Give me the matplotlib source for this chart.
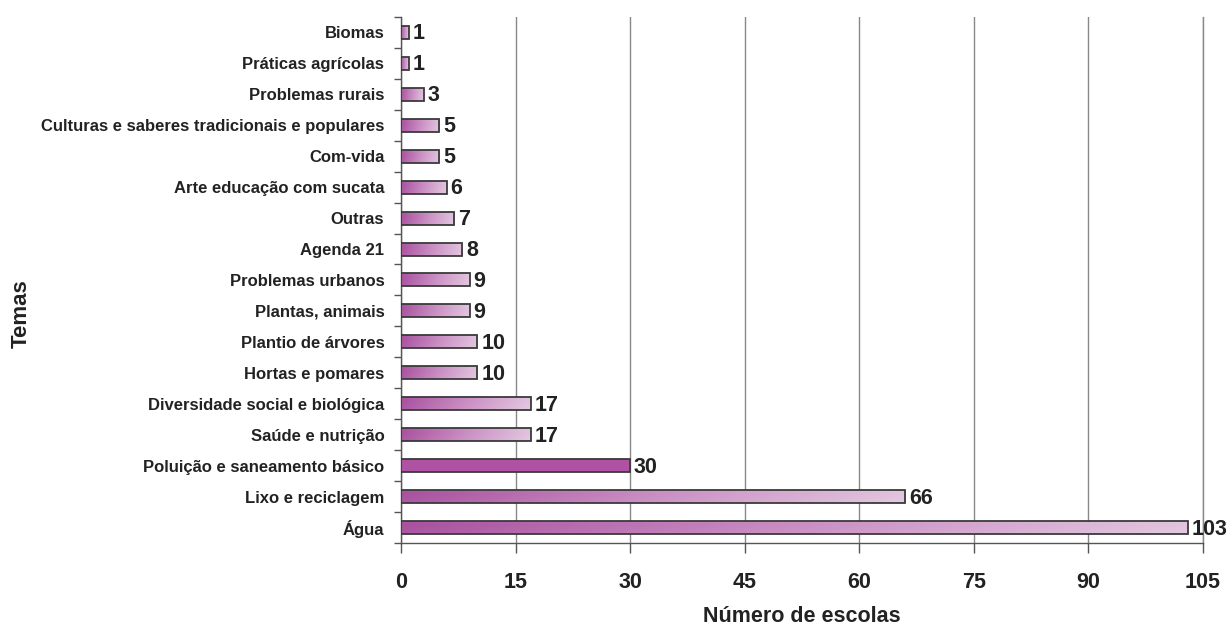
import numpy as np
import matplotlib
matplotlib.use("Agg")
import matplotlib.pyplot as plt
from matplotlib.colors import LinearSegmentedColormap
from matplotlib.ticker import FixedLocator, NullFormatter

plt.rcParams["font.family"] = ["Liberation Sans", "DejaVu Sans"]
plt.rcParams["font.weight"] = "bold"

temas = [
    "Água", "Lixo e reciclagem", "Poluição e saneamento básico",
    "Saúde e nutrição", "Diversidade social e biológica", "Hortas e pomares",
    "Plantio de árvores", "Plantas, animais", "Problemas urbanos", "Agenda 21",
    "Outras", "Arte educação com sucata", "Com-vida",
    "Culturas e saberes tradicionais e populares", "Problemas rurais",
    "Práticas agrícolas", "Biomas",
]
escolas = [103, 66, 30, 17, 17, 10, 10, 9, 9, 8, 7, 6, 5, 5, 3, 1, 1]
destaque = "Poluição e saneamento básico"
xticks = [0, 15, 30, 45, 60, 75, 90, 105]

fig = plt.figure(figsize=(12.29, 6.27), dpi=100)
ax = fig.add_axes([0.3263, 0.134, 0.6526, 0.839])

y = np.arange(len(temas))
h = 0.42
cmap = LinearSegmentedColormap.from_list("roxo", ["#a9519f", "#cc93c6", "#e6cfe3"])

# gradiente horizontal com leve sombreamento vertical
gx = np.linspace(0, 1, 256)
gy = np.linspace(0, 1, 16)
grad = gx[None, :] * 0.9 + 0.08 * np.abs(gy[:, None] - 0.3)
grad = np.clip(grad, 0, 1)

for yi, nome, v in zip(y, temas, escolas):
    if nome == destaque:
        ax.barh(yi, v, height=h, color="#b052a3", edgecolor="#3a3a3a",
                linewidth=1.3, zorder=3)
    else:
        bar = ax.barh(yi, v, height=h, color="none", edgecolor="#3a3a3a",
                      linewidth=1.3, zorder=4)[0]
        im = ax.imshow(grad, cmap=cmap, aspect="auto", vmin=0, vmax=1,
                       extent=(0, v, yi - h / 2, yi + h / 2), zorder=3,
                       interpolation="bilinear")
        im.set_clip_path(bar)
    ax.text(v + 0.5, yi - 0.05, str(v), va="center", ha="left", fontsize=15.5,
            fontweight="bold", color="#222222", clip_on=False)

ax.set_xlim(0, 105)
ax.set_ylim(-0.5, len(temas) - 0.5)
ax.set_xticks(xticks)
ax.set_xticklabels([str(t) for t in xticks], fontsize=15.5, fontweight="bold",
                   color="#222222")
ax.tick_params(axis="x", length=7, width=1, color="#555555", pad=14)

ax.set_yticks(y)
ax.set_yticklabels(temas, fontsize=12, fontweight="bold", color="#222222")
ax.tick_params(axis="y", which="major", length=0, pad=12)
ax.yaxis.set_minor_locator(FixedLocator(np.arange(-0.5, len(temas), 1.0)))
ax.yaxis.set_minor_formatter(NullFormatter())
ax.tick_params(axis="y", which="minor", length=5, width=1, color="#555555")

ax.grid(axis="x", color="#888888", linewidth=1, zorder=0)
ax.axvline(105, color="#888888", linewidth=1, zorder=0, clip_on=False)
ax.set_axisbelow(True)
for s in ["top", "right"]:
    ax.spines[s].set_visible(False)
for s in ["left", "bottom"]:
    ax.spines[s].set_color("#555555")
    ax.spines[s].set_linewidth(1)

ax.set_xlabel("Número de escolas", fontsize=15.5, fontweight="bold",
              color="#222222", labelpad=9)
fig.text(0.017, 0.5, "Temas", rotation=90, va="center", ha="center",
         fontsize=16, fontweight="bold", color="#222222")

fig.savefig("out.png", dpi=100)
